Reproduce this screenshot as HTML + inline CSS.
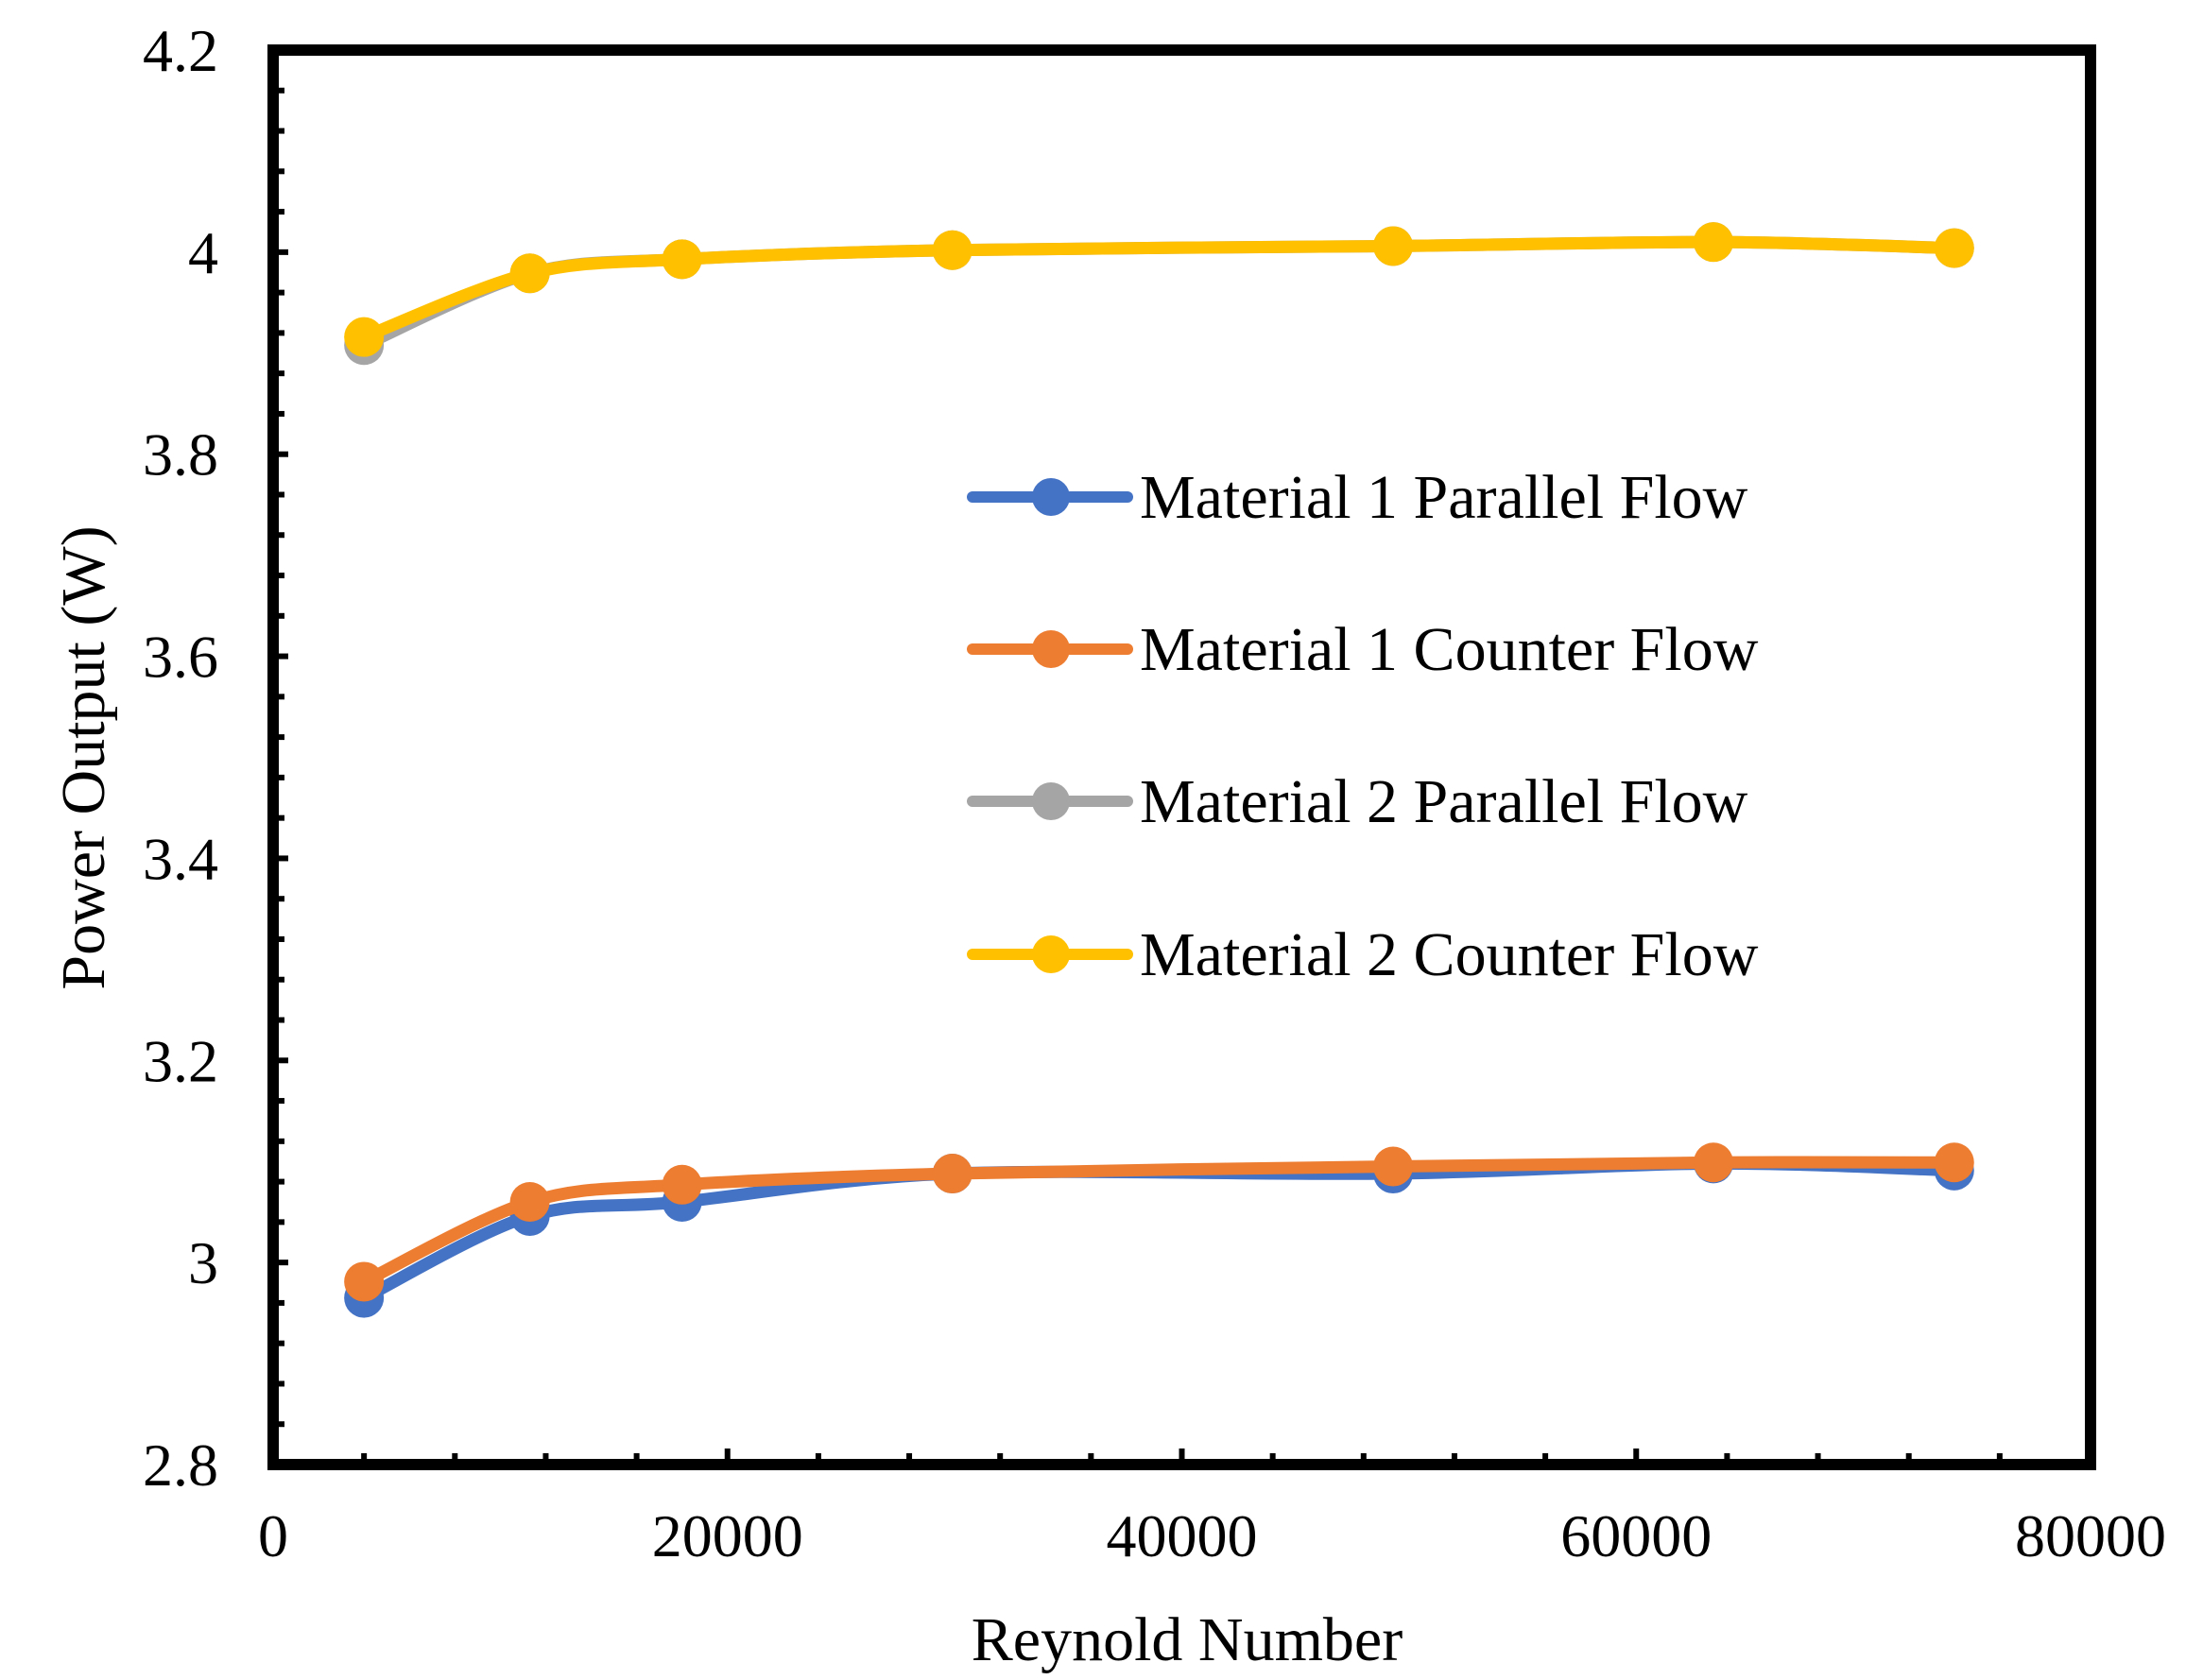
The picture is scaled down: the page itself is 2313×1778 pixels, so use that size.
<!DOCTYPE html>
<html><head><meta charset="utf-8">
<style>
html,body{margin:0;padding:0;background:#fff;}
svg{display:block;}
text{font-family:"Liberation Serif",serif;fill:#000;}
</style></head>
<body>
<svg id="chart" width="2313" height="1778" viewBox="0 0 2313 1778" xmlns="http://www.w3.org/2000/svg">
<g id="series"></g>
<g id="axes"></g>
<g id="legend"></g>
</svg>
<script>
const reynolds = [4000, 11300, 18000, 29900, 49300, 63400, 74000];
const m1Parallel = [2.965, 3.046, 3.060, 3.088, 3.088, 3.098, 3.091];
const m1Counter  = [2.981, 3.060, 3.077, 3.088, 3.095, 3.099, 3.099];
const m2Parallel = [3.908, 3.979, 3.993, 4.002, 4.006, 4.010, 4.004];
const m2Counter  = [3.916, 3.979, 3.993, 4.002, 4.006, 4.010, 4.004];
const seriesNames = ["Material 1 Parallel Flow","Material 1 Counter Flow","Material 2 Parallel Flow","Material 2 Counter Flow"];
const yTicks = [2.8, 3, 3.2, 3.4, 3.6, 3.8, 4, 4.2];
const yTickLabels = ["2.8","3","3.2","3.4","3.6","3.8","4","4.2"];
const xTicks = [0, 20000, 40000, 60000, 80000];
const xTickLabels = ["0","20000","40000","60000","80000"];

const NS = "http://www.w3.org/2000/svg";
const X0=289, X1=2212, Y0=1550, Y1=53;
const xs = v => X0 + (v-0)/(80000-0)*(X1-X0);
const ys = v => Y0 - (v-2.8)/(4.2-2.8)*(Y0-Y1);
function mk(tag, attrs, parent){const e=document.createElementNS(NS,tag);for(const k in attrs)e.setAttribute(k,attrs[k]);parent.appendChild(e);return e;}

const colors=["#4472C4","#ED7D31","#A5A5A5","#FFC000"];
const allSeries=[m1Parallel,m1Counter,m2Parallel,m2Counter];
const sg=document.getElementById('series');
function smoothPath(pts){
  let d=`M${pts[0][0]},${pts[0][1]}`;
  const t=0.16;
  for(let i=0;i<pts.length-1;i++){
    const p0=pts[Math.max(0,i-1)],p1=pts[i],p2=pts[i+1],p3=pts[Math.min(pts.length-1,i+2)];
    const c1=[p1[0]+(p2[0]-p0[0])*t,p1[1]+(p2[1]-p0[1])*t];
    const c2=[p2[0]-(p3[0]-p1[0])*t,p2[1]-(p3[1]-p1[1])*t];
    d+=` C${c1[0]},${c1[1]} ${c2[0]},${c2[1]} ${p2[0]},${p2[1]}`;
  }
  return d;
}
allSeries.forEach((vals,si)=>{
  const g=mk('g',{},sg);
  
  
  const pts=vals.map((v,i)=>[xs(reynolds[i]),ys(v)]);
  const p=mk('path',{d:smoothPath(pts),fill:'none',stroke:colors[si],'stroke-width':13,'stroke-linecap':'round','stroke-linejoin':'round'},g);
  
  
  pts.forEach((pt,i)=>{
    const c=mk('circle',{cx:pt[0],cy:pt[1],r:21,fill:colors[si]},g);
    
    
  });
});

const ag=document.getElementById('axes');
for(let k=0;k<=35;k++){
  const v=2.8+k*0.04, y=ys(v), major=(k%5===0);
  const t=mk('line',{x1:X0,y1:y,x2:X0+(major?16:12),y2:y,stroke:'#000','stroke-width':6},ag);
  
  
}
for(let k=0;k<=20;k++){
  const x=xs(k*4000), major=(k%5===0);
  const t=mk('line',{x1:x,y1:Y0,x2:x,y2:Y0-(major?17:12),stroke:'#000','stroke-width':6},ag);
  
  
}
const frame=mk('rect',{x:X0,y:Y1,width:X1-X0,height:Y0-Y1,fill:'none',stroke:'#000','stroke-width':12},ag);


yTicks.forEach((v,i)=>{
  const t=mk('text',{x:231,y:ys(v)+22,'text-anchor':'end','font-size':64},ag);
  t.textContent=yTickLabels[i];
  
  
});
xTicks.forEach((v,i)=>{
  const t=mk('text',{x:xs(v),y:1647,'text-anchor':'middle','font-size':64},ag);
  t.textContent=xTickLabels[i];
  
  
});
const xt=mk('text',{x:1256,y:1757,'text-anchor':'middle','font-size':66},ag);
xt.textContent='Reynold Number';


const yt=mk('text',{x:0,y:0,'text-anchor':'middle','font-size':66,transform:'translate(110,802) rotate(-90)'},ag);
yt.textContent='Power Output (W)';



const lg=document.getElementById('legend');
const rowsY=[526,687,848,1010];
seriesNames.forEach((n,i)=>{
  const g=mk('g',{},lg);
  
  
  mk('line',{x1:1029,y1:rowsY[i],x2:1193,y2:rowsY[i],stroke:colors[i],'stroke-width':12,'stroke-linecap':'round'},g);
  mk('circle',{cx:1112,cy:rowsY[i],r:20,fill:colors[i]},g);
  const t=mk('text',{x:1206,y:rowsY[i]+22,'font-size':66},g);
  t.textContent=n;
});
</script>
</body></html>
